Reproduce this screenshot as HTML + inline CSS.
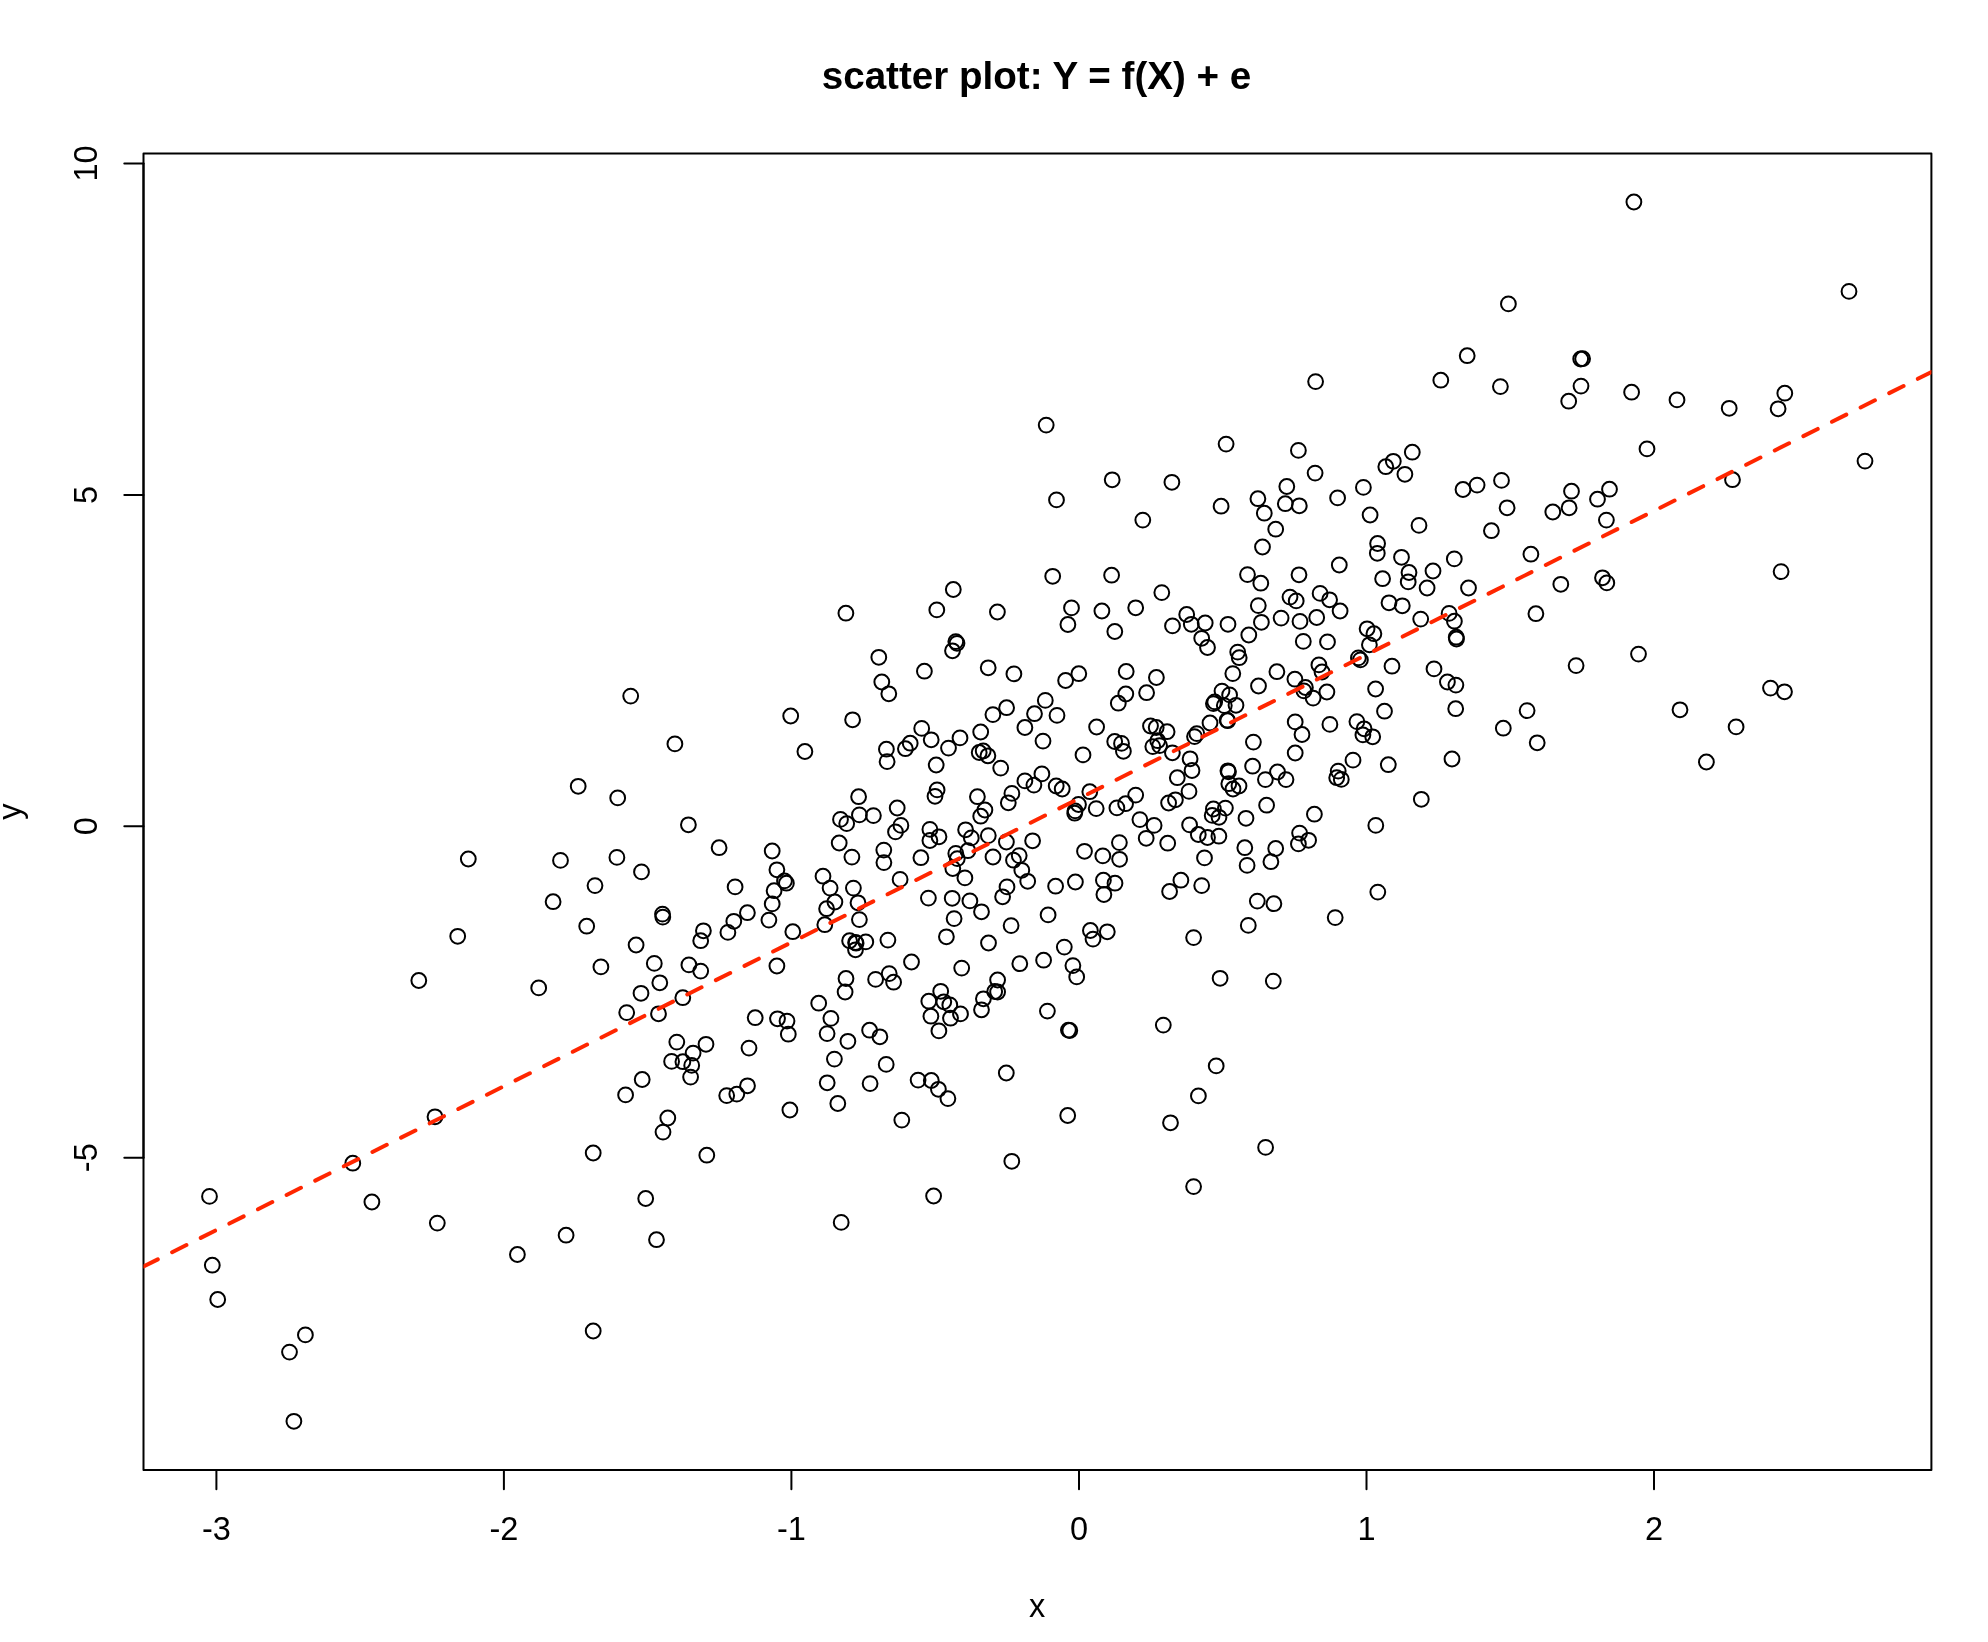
<!DOCTYPE html>
<html><head><meta charset="utf-8"><title>scatter plot</title>
<style>
html,body{margin:0;padding:0;background:#fff;}
svg{display:block;will-change:transform}
text{font-family:"Liberation Sans",Arial,Helvetica,sans-serif;fill:#000}
.ax{font-size:32.5px}
.ti{font-size:38.6px;font-weight:bold}
.p circle{fill:none;stroke:#000;stroke-width:2}
</style></head><body>
<svg width="1988" height="1642" viewBox="0 0 1988 1642">
<rect x="0" y="0" width="1988" height="1642" fill="#fff"/>
<defs><clipPath id="c"><rect x="143.5" y="153.4" width="1787.9" height="1316.6"/></clipPath></defs>
<text class="ti" x="1036.5" y="88.8" text-anchor="middle">scatter plot: Y = f(X) + e</text>
<text class="ax" x="1037" y="1617" text-anchor="middle">x</text>
<text class="ax" transform="translate(21,811.6) rotate(-90)" text-anchor="middle">y</text>
<g stroke="#000" stroke-width="2" fill="none" stroke-linecap="round">
<path d="M216.4 1470H1654.0"/><path d="M216.4 1470V1489.2"/><path d="M503.9 1470V1489.2"/><path d="M791.4 1470V1489.2"/><path d="M1079.0 1470V1489.2"/><path d="M1366.5 1470V1489.2"/><path d="M1654.0 1470V1489.2"/><path d="M143.5 1157.7V163.5"/><path d="M143.5 163.5H124.3"/><path d="M143.5 494.9H124.3"/><path d="M143.5 826.3H124.3"/><path d="M143.5 1157.7H124.3"/><rect x="143.5" y="153.4" width="1787.9" height="1316.6" stroke-linejoin="round"/></g>
<text class="ax" x="216.4" y="1539.8" text-anchor="middle">-3</text><text class="ax" x="503.9" y="1539.8" text-anchor="middle">-2</text><text class="ax" x="791.4" y="1539.8" text-anchor="middle">-1</text><text class="ax" x="1079.0" y="1539.8" text-anchor="middle">0</text><text class="ax" x="1366.5" y="1539.8" text-anchor="middle">1</text><text class="ax" x="1654.0" y="1539.8" text-anchor="middle">2</text><text class="ax" transform="translate(97,163.5) rotate(-90)" text-anchor="middle">10</text><text class="ax" transform="translate(97,494.9) rotate(-90)" text-anchor="middle">5</text><text class="ax" transform="translate(97,826.3) rotate(-90)" text-anchor="middle">0</text><text class="ax" transform="translate(97,1157.7) rotate(-90)" text-anchor="middle">-5</text>
<g class="p" clip-path="url(#c)">
<circle cx="1633.9" cy="202.0" r="7.4"/><circle cx="1508.4" cy="303.9" r="7.4"/><circle cx="1467.2" cy="355.7" r="7.4"/><circle cx="1580.7" cy="359.0" r="7.4"/><circle cx="1582.6" cy="358.7" r="7.4"/><circle cx="1849.0" cy="291.4" r="7.4"/>
<circle cx="1046.2" cy="425.1" r="7.4"/><circle cx="1226.1" cy="444.1" r="7.4"/><circle cx="1112.2" cy="479.8" r="7.4"/><circle cx="1171.9" cy="482.3" r="7.4"/><circle cx="1056.5" cy="499.9" r="7.4"/><circle cx="1221.1" cy="506.2" r="7.4"/>
<circle cx="1142.8" cy="520.1" r="7.4"/><circle cx="1052.7" cy="576.3" r="7.4"/><circle cx="1111.6" cy="575.2" r="7.4"/><circle cx="953.3" cy="589.5" r="7.4"/><circle cx="1161.8" cy="592.6" r="7.4"/><circle cx="1315.6" cy="381.6" r="7.4"/>
<circle cx="1440.8" cy="380.2" r="7.4"/><circle cx="1500.4" cy="386.6" r="7.4"/><circle cx="1298.4" cy="450.4" r="7.4"/><circle cx="1412.3" cy="452.2" r="7.4"/><circle cx="1393.3" cy="461.3" r="7.4"/><circle cx="1385.8" cy="466.7" r="7.4"/>
<circle cx="1404.9" cy="474.3" r="7.4"/><circle cx="1315.1" cy="473.1" r="7.4"/><circle cx="1286.8" cy="486.5" r="7.4"/><circle cx="1363.4" cy="487.4" r="7.4"/><circle cx="1501.5" cy="480.4" r="7.4"/><circle cx="1477.1" cy="485.1" r="7.4"/>
<circle cx="1463.0" cy="489.5" r="7.4"/><circle cx="1257.9" cy="498.7" r="7.4"/><circle cx="1337.6" cy="497.9" r="7.4"/><circle cx="1285.3" cy="503.7" r="7.4"/><circle cx="1299.3" cy="505.8" r="7.4"/><circle cx="1264.3" cy="513.2" r="7.4"/>
<circle cx="1370.1" cy="515.0" r="7.4"/><circle cx="1507.1" cy="507.8" r="7.4"/><circle cx="1419.0" cy="525.4" r="7.4"/><circle cx="1275.7" cy="529.2" r="7.4"/><circle cx="1491.4" cy="530.7" r="7.4"/><circle cx="1262.5" cy="547.0" r="7.4"/>
<circle cx="1377.6" cy="543.5" r="7.4"/><circle cx="1377.3" cy="553.3" r="7.4"/><circle cx="1401.5" cy="557.3" r="7.4"/><circle cx="1454.3" cy="558.9" r="7.4"/><circle cx="1530.9" cy="554.2" r="7.4"/><circle cx="1339.3" cy="565.0" r="7.4"/>
<circle cx="1433.0" cy="571.0" r="7.4"/><circle cx="1409.0" cy="572.5" r="7.4"/><circle cx="1247.5" cy="574.6" r="7.4"/><circle cx="1299.0" cy="574.8" r="7.4"/><circle cx="1382.6" cy="578.7" r="7.4"/><circle cx="1408.2" cy="581.9" r="7.4"/>
<circle cx="1260.8" cy="583.2" r="7.4"/><circle cx="1427.1" cy="588.0" r="7.4"/><circle cx="1468.5" cy="588.0" r="7.4"/><circle cx="1581.0" cy="386.1" r="7.4"/><circle cx="1568.7" cy="401.2" r="7.4"/><circle cx="1631.6" cy="392.2" r="7.4"/>
<circle cx="1677.0" cy="399.9" r="7.4"/><circle cx="1729.2" cy="408.3" r="7.4"/><circle cx="1784.8" cy="393.2" r="7.4"/><circle cx="1778.1" cy="408.8" r="7.4"/><circle cx="1647.0" cy="448.9" r="7.4"/><circle cx="1732.5" cy="479.7" r="7.4"/>
<circle cx="1571.5" cy="491.2" r="7.4"/><circle cx="1609.5" cy="489.2" r="7.4"/><circle cx="1597.5" cy="499.2" r="7.4"/><circle cx="1569.1" cy="507.8" r="7.4"/><circle cx="1552.8" cy="512.0" r="7.4"/><circle cx="1606.4" cy="520.1" r="7.4"/>
<circle cx="1560.8" cy="584.3" r="7.4"/><circle cx="1602.5" cy="577.8" r="7.4"/><circle cx="1606.8" cy="582.9" r="7.4"/><circle cx="1781.1" cy="571.6" r="7.4"/><circle cx="1865.0" cy="461.1" r="7.4"/><circle cx="630.7" cy="696.1" r="7.4"/>
<circle cx="674.9" cy="743.9" r="7.4"/><circle cx="578.2" cy="786.3" r="7.4"/><circle cx="617.7" cy="797.9" r="7.4"/><circle cx="845.9" cy="613.2" r="7.4"/><circle cx="936.8" cy="609.9" r="7.4"/><circle cx="997.4" cy="612.0" r="7.4"/>
<circle cx="955.8" cy="641.6" r="7.4"/><circle cx="957.0" cy="643.3" r="7.4"/><circle cx="952.5" cy="650.8" r="7.4"/><circle cx="878.8" cy="657.3" r="7.4"/><circle cx="924.4" cy="671.2" r="7.4"/><circle cx="988.2" cy="667.8" r="7.4"/>
<circle cx="1013.9" cy="673.9" r="7.4"/><circle cx="881.8" cy="682.0" r="7.4"/><circle cx="888.8" cy="693.8" r="7.4"/><circle cx="790.7" cy="716.0" r="7.4"/><circle cx="852.6" cy="719.8" r="7.4"/><circle cx="1006.6" cy="707.7" r="7.4"/>
<circle cx="992.9" cy="714.6" r="7.4"/><circle cx="1034.5" cy="713.7" r="7.4"/><circle cx="1024.9" cy="727.5" r="7.4"/><circle cx="921.7" cy="728.4" r="7.4"/><circle cx="980.7" cy="732.0" r="7.4"/><circle cx="960.0" cy="737.9" r="7.4"/>
<circle cx="931.2" cy="739.8" r="7.4"/><circle cx="910.2" cy="743.2" r="7.4"/><circle cx="905.4" cy="748.7" r="7.4"/><circle cx="886.4" cy="749.2" r="7.4"/><circle cx="948.5" cy="748.1" r="7.4"/><circle cx="804.9" cy="751.5" r="7.4"/>
<circle cx="983.2" cy="751.0" r="7.4"/><circle cx="979.2" cy="752.5" r="7.4"/><circle cx="987.9" cy="755.8" r="7.4"/><circle cx="887.1" cy="761.6" r="7.4"/><circle cx="936.2" cy="765.0" r="7.4"/><circle cx="1000.7" cy="768.1" r="7.4"/>
<circle cx="1024.9" cy="780.9" r="7.4"/><circle cx="1033.9" cy="785.1" r="7.4"/><circle cx="937.1" cy="789.9" r="7.4"/><circle cx="935.0" cy="796.3" r="7.4"/><circle cx="858.6" cy="796.7" r="7.4"/><circle cx="977.4" cy="796.7" r="7.4"/>
<circle cx="1011.9" cy="793.4" r="7.4"/><circle cx="1008.3" cy="802.8" r="7.4"/><circle cx="897.2" cy="808.0" r="7.4"/><circle cx="984.9" cy="810.0" r="7.4"/><circle cx="1071.5" cy="607.9" r="7.4"/><circle cx="1101.9" cy="611.0" r="7.4"/>
<circle cx="1135.7" cy="607.8" r="7.4"/><circle cx="1067.9" cy="624.5" r="7.4"/><circle cx="1114.8" cy="631.5" r="7.4"/><circle cx="1172.5" cy="625.9" r="7.4"/><circle cx="1186.7" cy="614.5" r="7.4"/><circle cx="1191.3" cy="624.3" r="7.4"/>
<circle cx="1078.8" cy="673.7" r="7.4"/><circle cx="1065.6" cy="680.5" r="7.4"/><circle cx="1126.2" cy="671.5" r="7.4"/><circle cx="1156.4" cy="677.5" r="7.4"/><circle cx="1125.8" cy="694.0" r="7.4"/><circle cx="1146.6" cy="692.7" r="7.4"/>
<circle cx="1045.3" cy="700.4" r="7.4"/><circle cx="1205.2" cy="623.0" r="7.4"/><circle cx="1228.0" cy="624.3" r="7.4"/><circle cx="1258.3" cy="605.6" r="7.4"/><circle cx="1261.4" cy="622.3" r="7.4"/><circle cx="1248.8" cy="635.0" r="7.4"/>
<circle cx="1281.1" cy="618.1" r="7.4"/><circle cx="1300.0" cy="621.4" r="7.4"/><circle cx="1316.7" cy="617.5" r="7.4"/><circle cx="1290.0" cy="597.1" r="7.4"/><circle cx="1296.2" cy="600.9" r="7.4"/><circle cx="1320.1" cy="593.4" r="7.4"/>
<circle cx="1329.6" cy="599.8" r="7.4"/><circle cx="1340.1" cy="611.0" r="7.4"/><circle cx="1201.7" cy="638.3" r="7.4"/><circle cx="1207.5" cy="647.5" r="7.4"/><circle cx="1237.7" cy="652.1" r="7.4"/><circle cx="1239.2" cy="657.7" r="7.4"/>
<circle cx="1303.3" cy="641.4" r="7.4"/><circle cx="1327.5" cy="641.9" r="7.4"/><circle cx="1232.8" cy="673.6" r="7.4"/><circle cx="1276.9" cy="671.7" r="7.4"/><circle cx="1318.9" cy="664.9" r="7.4"/><circle cx="1322.0" cy="672.0" r="7.4"/>
<circle cx="1294.9" cy="679.2" r="7.4"/><circle cx="1258.5" cy="686.0" r="7.4"/><circle cx="1305.4" cy="687.5" r="7.4"/><circle cx="1303.9" cy="690.9" r="7.4"/><circle cx="1326.9" cy="692.0" r="7.4"/><circle cx="1313.1" cy="698.1" r="7.4"/>
<circle cx="1222.0" cy="691.1" r="7.4"/><circle cx="1229.6" cy="694.9" r="7.4"/><circle cx="1214.7" cy="701.9" r="7.4"/><circle cx="1118.3" cy="703.2" r="7.4"/><circle cx="1057.0" cy="715.4" r="7.4"/><circle cx="1096.6" cy="727.0" r="7.4"/>
<circle cx="1043.0" cy="741.1" r="7.4"/><circle cx="1041.9" cy="773.9" r="7.4"/><circle cx="1083.0" cy="754.9" r="7.4"/><circle cx="1114.7" cy="741.5" r="7.4"/><circle cx="1121.5" cy="743.4" r="7.4"/><circle cx="1123.4" cy="751.3" r="7.4"/>
<circle cx="1150.5" cy="726.0" r="7.4"/><circle cx="1156.2" cy="727.5" r="7.4"/><circle cx="1167.1" cy="731.7" r="7.4"/><circle cx="1157.7" cy="740.7" r="7.4"/><circle cx="1152.8" cy="746.6" r="7.4"/><circle cx="1159.6" cy="745.6" r="7.4"/>
<circle cx="1172.4" cy="752.8" r="7.4"/><circle cx="1190.1" cy="758.8" r="7.4"/><circle cx="1192.0" cy="770.5" r="7.4"/><circle cx="1177.3" cy="777.7" r="7.4"/><circle cx="1189.0" cy="791.4" r="7.4"/><circle cx="1175.4" cy="799.8" r="7.4"/>
<circle cx="1168.6" cy="803.0" r="7.4"/><circle cx="1135.7" cy="795.1" r="7.4"/><circle cx="1125.6" cy="803.7" r="7.4"/><circle cx="1116.9" cy="807.9" r="7.4"/><circle cx="1096.2" cy="808.6" r="7.4"/><circle cx="1089.8" cy="791.7" r="7.4"/>
<circle cx="1078.5" cy="804.5" r="7.4"/><circle cx="1056.2" cy="786.0" r="7.4"/><circle cx="1062.2" cy="789.0" r="7.4"/><circle cx="1075.1" cy="810.9" r="7.4"/><circle cx="1213.4" cy="703.6" r="7.4"/><circle cx="1224.3" cy="705.6" r="7.4"/>
<circle cx="1236.0" cy="705.3" r="7.4"/><circle cx="1210.0" cy="723.0" r="7.4"/><circle cx="1227.1" cy="720.2" r="7.4"/><circle cx="1227.7" cy="720.7" r="7.4"/><circle cx="1196.8" cy="733.6" r="7.4"/><circle cx="1194.5" cy="736.6" r="7.4"/>
<circle cx="1253.4" cy="742.1" r="7.4"/><circle cx="1295.2" cy="721.9" r="7.4"/><circle cx="1302.0" cy="734.5" r="7.4"/><circle cx="1329.9" cy="724.4" r="7.4"/><circle cx="1295.2" cy="753.0" r="7.4"/><circle cx="1227.9" cy="770.8" r="7.4"/>
<circle cx="1228.5" cy="771.8" r="7.4"/><circle cx="1252.6" cy="766.2" r="7.4"/><circle cx="1265.4" cy="779.6" r="7.4"/><circle cx="1277.5" cy="772.0" r="7.4"/><circle cx="1286.0" cy="779.6" r="7.4"/><circle cx="1228.8" cy="783.7" r="7.4"/>
<circle cx="1239.0" cy="786.0" r="7.4"/><circle cx="1233.0" cy="789.0" r="7.4"/><circle cx="1338.2" cy="771.1" r="7.4"/><circle cx="1336.7" cy="777.7" r="7.4"/><circle cx="1341.3" cy="779.4" r="7.4"/><circle cx="1266.6" cy="805.2" r="7.4"/>
<circle cx="1213.4" cy="809.0" r="7.4"/><circle cx="1225.4" cy="808.1" r="7.4"/><circle cx="1389.0" cy="602.8" r="7.4"/><circle cx="1402.3" cy="605.8" r="7.4"/><circle cx="1420.7" cy="619.1" r="7.4"/><circle cx="1449.1" cy="613.4" r="7.4"/>
<circle cx="1454.4" cy="621.2" r="7.4"/><circle cx="1456.2" cy="637.2" r="7.4"/><circle cx="1456.5" cy="639.0" r="7.4"/><circle cx="1535.9" cy="613.7" r="7.4"/><circle cx="1367.1" cy="628.8" r="7.4"/><circle cx="1373.9" cy="633.7" r="7.4"/>
<circle cx="1369.4" cy="644.8" r="7.4"/><circle cx="1358.4" cy="657.9" r="7.4"/><circle cx="1360.4" cy="659.9" r="7.4"/><circle cx="1392.0" cy="666.2" r="7.4"/><circle cx="1434.0" cy="668.9" r="7.4"/><circle cx="1447.4" cy="682.0" r="7.4"/>
<circle cx="1455.9" cy="685.1" r="7.4"/><circle cx="1576.1" cy="665.6" r="7.4"/><circle cx="1638.5" cy="654.1" r="7.4"/><circle cx="1375.6" cy="689.0" r="7.4"/><circle cx="1384.5" cy="711.2" r="7.4"/><circle cx="1455.7" cy="708.7" r="7.4"/>
<circle cx="1527.1" cy="710.6" r="7.4"/><circle cx="1503.3" cy="728.2" r="7.4"/><circle cx="1537.2" cy="742.8" r="7.4"/><circle cx="1356.9" cy="721.6" r="7.4"/><circle cx="1364.1" cy="728.8" r="7.4"/><circle cx="1362.9" cy="734.9" r="7.4"/>
<circle cx="1372.7" cy="736.8" r="7.4"/><circle cx="1353.0" cy="760.1" r="7.4"/><circle cx="1388.3" cy="764.7" r="7.4"/><circle cx="1452.0" cy="759.0" r="7.4"/><circle cx="1421.3" cy="799.3" r="7.4"/><circle cx="1770.5" cy="688.1" r="7.4"/>
<circle cx="1784.5" cy="691.8" r="7.4"/><circle cx="1680.0" cy="709.8" r="7.4"/><circle cx="1736.1" cy="726.9" r="7.4"/><circle cx="1706.4" cy="762.0" r="7.4"/><circle cx="468.3" cy="859.0" r="7.4"/><circle cx="560.5" cy="860.4" r="7.4"/>
<circle cx="616.9" cy="857.4" r="7.4"/><circle cx="641.5" cy="871.9" r="7.4"/><circle cx="595.0" cy="885.6" r="7.4"/><circle cx="553.1" cy="901.7" r="7.4"/><circle cx="586.7" cy="926.2" r="7.4"/><circle cx="457.7" cy="936.3" r="7.4"/>
<circle cx="636.1" cy="945.0" r="7.4"/><circle cx="600.9" cy="966.9" r="7.4"/><circle cx="418.8" cy="980.5" r="7.4"/><circle cx="538.7" cy="987.9" r="7.4"/><circle cx="641.0" cy="993.3" r="7.4"/><circle cx="626.7" cy="1012.6" r="7.4"/>
<circle cx="688.4" cy="824.8" r="7.4"/><circle cx="719.1" cy="847.7" r="7.4"/><circle cx="772.2" cy="851.0" r="7.4"/><circle cx="776.9" cy="869.8" r="7.4"/><circle cx="784.5" cy="880.9" r="7.4"/><circle cx="786.4" cy="883.2" r="7.4"/>
<circle cx="735.1" cy="886.9" r="7.4"/><circle cx="774.1" cy="890.7" r="7.4"/><circle cx="772.2" cy="903.9" r="7.4"/><circle cx="747.4" cy="912.7" r="7.4"/><circle cx="662.5" cy="914.1" r="7.4"/><circle cx="662.8" cy="917.1" r="7.4"/>
<circle cx="733.8" cy="921.3" r="7.4"/><circle cx="768.9" cy="920.1" r="7.4"/><circle cx="840.5" cy="819.4" r="7.4"/><circle cx="846.7" cy="823.6" r="7.4"/><circle cx="859.4" cy="814.9" r="7.4"/><circle cx="873.4" cy="815.6" r="7.4"/>
<circle cx="900.9" cy="825.4" r="7.4"/><circle cx="895.5" cy="831.9" r="7.4"/><circle cx="929.9" cy="829.4" r="7.4"/><circle cx="929.9" cy="840.5" r="7.4"/><circle cx="939.0" cy="836.8" r="7.4"/><circle cx="839.2" cy="843.0" r="7.4"/>
<circle cx="851.9" cy="857.1" r="7.4"/><circle cx="883.8" cy="850.1" r="7.4"/><circle cx="883.9" cy="862.6" r="7.4"/><circle cx="920.9" cy="857.7" r="7.4"/><circle cx="900.1" cy="879.4" r="7.4"/><circle cx="823.0" cy="876.2" r="7.4"/>
<circle cx="830.1" cy="888.1" r="7.4"/><circle cx="853.4" cy="888.1" r="7.4"/><circle cx="834.9" cy="902.0" r="7.4"/><circle cx="826.6" cy="908.7" r="7.4"/><circle cx="858.0" cy="902.8" r="7.4"/><circle cx="928.4" cy="898.1" r="7.4"/>
<circle cx="859.4" cy="919.6" r="7.4"/><circle cx="703.4" cy="930.8" r="7.4"/><circle cx="700.7" cy="940.7" r="7.4"/><circle cx="727.9" cy="932.4" r="7.4"/><circle cx="792.8" cy="931.7" r="7.4"/><circle cx="654.3" cy="963.4" r="7.4"/>
<circle cx="688.9" cy="964.9" r="7.4"/><circle cx="700.7" cy="971.1" r="7.4"/><circle cx="776.9" cy="966.0" r="7.4"/><circle cx="659.8" cy="982.8" r="7.4"/><circle cx="682.8" cy="997.7" r="7.4"/><circle cx="658.5" cy="1013.8" r="7.4"/>
<circle cx="755.2" cy="1017.7" r="7.4"/><circle cx="777.5" cy="1018.8" r="7.4"/><circle cx="787.0" cy="1021.1" r="7.4"/><circle cx="824.8" cy="924.7" r="7.4"/><circle cx="849.6" cy="940.7" r="7.4"/><circle cx="855.6" cy="942.5" r="7.4"/>
<circle cx="856.1" cy="943.2" r="7.4"/><circle cx="865.8" cy="941.9" r="7.4"/><circle cx="855.5" cy="949.8" r="7.4"/><circle cx="887.9" cy="940.1" r="7.4"/><circle cx="911.5" cy="962.0" r="7.4"/><circle cx="846.0" cy="978.5" r="7.4"/>
<circle cx="845.1" cy="992.0" r="7.4"/><circle cx="875.6" cy="979.4" r="7.4"/><circle cx="889.2" cy="973.6" r="7.4"/><circle cx="893.6" cy="982.2" r="7.4"/><circle cx="818.7" cy="1003.2" r="7.4"/><circle cx="940.7" cy="991.3" r="7.4"/>
<circle cx="928.8" cy="1001.2" r="7.4"/><circle cx="930.9" cy="1016.2" r="7.4"/><circle cx="830.9" cy="1018.4" r="7.4"/><circle cx="869.6" cy="1030.2" r="7.4"/><circle cx="938.9" cy="1030.9" r="7.4"/><circle cx="980.7" cy="816.2" r="7.4"/>
<circle cx="1074.7" cy="813.2" r="7.4"/><circle cx="965.6" cy="829.8" r="7.4"/><circle cx="971.3" cy="837.9" r="7.4"/><circle cx="988.3" cy="835.6" r="7.4"/><circle cx="1006.4" cy="842.0" r="7.4"/><circle cx="1032.6" cy="840.8" r="7.4"/>
<circle cx="1084.5" cy="851.3" r="7.4"/><circle cx="967.9" cy="850.7" r="7.4"/><circle cx="955.8" cy="853.4" r="7.4"/><circle cx="957.3" cy="858.6" r="7.4"/><circle cx="952.8" cy="868.5" r="7.4"/><circle cx="993.0" cy="857.0" r="7.4"/>
<circle cx="1019.2" cy="855.6" r="7.4"/><circle cx="1013.5" cy="860.2" r="7.4"/><circle cx="1021.8" cy="870.3" r="7.4"/><circle cx="964.9" cy="877.9" r="7.4"/><circle cx="1027.7" cy="881.3" r="7.4"/><circle cx="1007.0" cy="886.9" r="7.4"/>
<circle cx="1002.6" cy="896.8" r="7.4"/><circle cx="1055.6" cy="886.2" r="7.4"/><circle cx="1075.4" cy="882.0" r="7.4"/><circle cx="952.2" cy="898.3" r="7.4"/><circle cx="969.9" cy="900.9" r="7.4"/><circle cx="981.5" cy="911.8" r="7.4"/>
<circle cx="1048.1" cy="914.9" r="7.4"/><circle cx="954.1" cy="918.6" r="7.4"/><circle cx="1139.9" cy="819.6" r="7.4"/><circle cx="1154.1" cy="825.4" r="7.4"/><circle cx="1146.2" cy="838.3" r="7.4"/><circle cx="1119.4" cy="842.6" r="7.4"/>
<circle cx="1167.7" cy="843.2" r="7.4"/><circle cx="1189.6" cy="824.9" r="7.4"/><circle cx="1198.3" cy="834.5" r="7.4"/><circle cx="1207.5" cy="837.5" r="7.4"/><circle cx="1218.9" cy="836.2" r="7.4"/><circle cx="1212.2" cy="815.4" r="7.4"/>
<circle cx="1219.0" cy="817.3" r="7.4"/><circle cx="1102.8" cy="855.9" r="7.4"/><circle cx="1119.6" cy="859.3" r="7.4"/><circle cx="1204.5" cy="857.9" r="7.4"/><circle cx="1103.4" cy="880.2" r="7.4"/><circle cx="1115.0" cy="883.2" r="7.4"/>
<circle cx="1103.9" cy="894.5" r="7.4"/><circle cx="1180.9" cy="880.2" r="7.4"/><circle cx="1169.6" cy="891.5" r="7.4"/><circle cx="1201.7" cy="885.6" r="7.4"/><circle cx="1011.1" cy="925.6" r="7.4"/><circle cx="946.4" cy="936.8" r="7.4"/>
<circle cx="988.5" cy="943.0" r="7.4"/><circle cx="1064.3" cy="947.1" r="7.4"/><circle cx="1090.4" cy="930.5" r="7.4"/><circle cx="1093.0" cy="939.1" r="7.4"/><circle cx="961.7" cy="968.1" r="7.4"/><circle cx="1019.8" cy="963.7" r="7.4"/>
<circle cx="1043.6" cy="960.2" r="7.4"/><circle cx="1072.9" cy="965.6" r="7.4"/><circle cx="1076.7" cy="976.9" r="7.4"/><circle cx="997.6" cy="980.0" r="7.4"/><circle cx="994.7" cy="991.5" r="7.4"/><circle cx="997.6" cy="992.0" r="7.4"/>
<circle cx="983.4" cy="998.8" r="7.4"/><circle cx="981.5" cy="1009.8" r="7.4"/><circle cx="1047.4" cy="1011.1" r="7.4"/><circle cx="943.8" cy="1001.8" r="7.4"/><circle cx="949.8" cy="1004.9" r="7.4"/><circle cx="960.5" cy="1013.9" r="7.4"/>
<circle cx="950.5" cy="1018.2" r="7.4"/><circle cx="1068.4" cy="1030.1" r="7.4"/><circle cx="1069.8" cy="1030.5" r="7.4"/><circle cx="1107.3" cy="931.8" r="7.4"/><circle cx="1193.6" cy="937.6" r="7.4"/><circle cx="1220.1" cy="978.3" r="7.4"/>
<circle cx="1163.3" cy="1025.1" r="7.4"/><circle cx="1246.0" cy="818.3" r="7.4"/><circle cx="1314.4" cy="814.2" r="7.4"/><circle cx="1375.8" cy="825.4" r="7.4"/><circle cx="1299.6" cy="833.1" r="7.4"/><circle cx="1308.6" cy="840.3" r="7.4"/>
<circle cx="1298.4" cy="843.9" r="7.4"/><circle cx="1244.8" cy="847.7" r="7.4"/><circle cx="1275.7" cy="848.5" r="7.4"/><circle cx="1270.9" cy="861.7" r="7.4"/><circle cx="1247.1" cy="865.4" r="7.4"/><circle cx="1377.8" cy="892.1" r="7.4"/>
<circle cx="1257.3" cy="901.1" r="7.4"/><circle cx="1273.9" cy="903.7" r="7.4"/><circle cx="1335.2" cy="917.6" r="7.4"/><circle cx="1248.3" cy="925.4" r="7.4"/><circle cx="1273.3" cy="981.1" r="7.4"/><circle cx="209.5" cy="1196.4" r="7.4"/>
<circle cx="352.8" cy="1163.2" r="7.4"/><circle cx="371.9" cy="1202.0" r="7.4"/><circle cx="435.0" cy="1116.8" r="7.4"/><circle cx="437.3" cy="1223.1" r="7.4"/><circle cx="676.8" cy="1042.1" r="7.4"/><circle cx="706.0" cy="1044.3" r="7.4"/>
<circle cx="693.1" cy="1053.1" r="7.4"/><circle cx="671.6" cy="1061.4" r="7.4"/><circle cx="682.9" cy="1061.7" r="7.4"/><circle cx="691.7" cy="1065.4" r="7.4"/><circle cx="690.6" cy="1077.1" r="7.4"/><circle cx="642.2" cy="1079.5" r="7.4"/>
<circle cx="625.6" cy="1094.9" r="7.4"/><circle cx="726.7" cy="1095.6" r="7.4"/><circle cx="736.8" cy="1094.1" r="7.4"/><circle cx="667.8" cy="1118.0" r="7.4"/><circle cx="663.0" cy="1132.1" r="7.4"/><circle cx="593.2" cy="1153.0" r="7.4"/>
<circle cx="706.8" cy="1155.2" r="7.4"/><circle cx="645.7" cy="1198.5" r="7.4"/><circle cx="566.1" cy="1235.2" r="7.4"/><circle cx="656.5" cy="1239.7" r="7.4"/><circle cx="788.3" cy="1034.2" r="7.4"/><circle cx="827.1" cy="1033.6" r="7.4"/>
<circle cx="847.9" cy="1041.3" r="7.4"/><circle cx="879.9" cy="1036.8" r="7.4"/><circle cx="749.0" cy="1048.1" r="7.4"/><circle cx="747.5" cy="1085.8" r="7.4"/><circle cx="834.4" cy="1059.1" r="7.4"/><circle cx="886.2" cy="1064.4" r="7.4"/>
<circle cx="827.2" cy="1082.8" r="7.4"/><circle cx="870.1" cy="1083.6" r="7.4"/><circle cx="918.1" cy="1080.1" r="7.4"/><circle cx="931.3" cy="1080.5" r="7.4"/><circle cx="938.4" cy="1089.3" r="7.4"/><circle cx="947.9" cy="1098.6" r="7.4"/>
<circle cx="1006.3" cy="1073.0" r="7.4"/><circle cx="837.8" cy="1103.5" r="7.4"/><circle cx="789.9" cy="1110.0" r="7.4"/><circle cx="901.8" cy="1120.1" r="7.4"/><circle cx="1011.8" cy="1161.3" r="7.4"/><circle cx="933.6" cy="1196.0" r="7.4"/>
<circle cx="841.2" cy="1222.4" r="7.4"/><circle cx="1216.2" cy="1065.9" r="7.4"/><circle cx="1198.4" cy="1095.9" r="7.4"/><circle cx="1067.7" cy="1115.5" r="7.4"/><circle cx="1170.5" cy="1122.8" r="7.4"/><circle cx="1265.6" cy="1147.4" r="7.4"/>
<circle cx="1193.6" cy="1186.6" r="7.4"/><circle cx="212.3" cy="1265.2" r="7.4"/><circle cx="217.7" cy="1299.5" r="7.4"/><circle cx="305.4" cy="1334.9" r="7.4"/><circle cx="289.5" cy="1352.1" r="7.4"/><circle cx="293.9" cy="1421.3" r="7.4"/>
<circle cx="517.4" cy="1254.5" r="7.4"/><circle cx="593.2" cy="1331.0" r="7.4"/>
</g>
<g clip-path="url(#c)"><path d="M143.5 1266.5L1931.5 372" stroke="#ff2600" stroke-width="4" stroke-dasharray="16 16" stroke-linecap="round" fill="none"/></g>
</svg></body></html>
